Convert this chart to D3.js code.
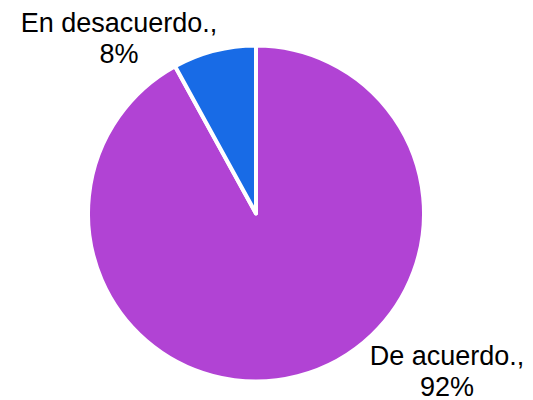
<!DOCTYPE html>
<html>
<head>
<meta charset="utf-8">
<script src="https://cdn.jsdelivr.net/npm/d3@7"></script>
<style>
  body { margin: 0; background: #fff; }
  text { font-family: "Liberation Sans", Arial, Helvetica, sans-serif; }
</style>
</head>
<body>
<svg id="chart" width="533" height="400"></svg>
<script>
// data
var categories = ["De acuerdo.", "En desacuerdo."];
var values = [92, 8];
var colors = ["#b143d4", "#186be6"];

var width = 533, height = 400;
var cx = 256, cy = 213.5, radius = 168;

var svg = d3.select("#chart");

var pie = d3.pie()
    .sort(null)
    .value(function (d) { return d.value; });

var arc = d3.arc()
    .innerRadius(0)
    .outerRadius(radius);

var data = categories.map(function (c, i) {
    return { name: c, value: values[i], color: colors[i] };
});

var g = svg.append("g")
    .attr("transform", "translate(" + cx + "," + cy + ")");

g.selectAll("path.slice")
    .data(pie(data))
    .enter()
    .append("path")
    .attr("class", "slice")
    .attr("d", arc)
    .attr("fill", function (d) { return d.data.color; })
    .attr("stroke", "#fff")
    .attr("stroke-width", 4)
    .attr("stroke-linejoin", "round");

// labels, two lines each, centered
var labelPos = [
    { x: 447, y: 365 },   // De acuerdo.
    { x: 119, y: 32 }     // En desacuerdo.
];

var labels = svg.selectAll("text.lbl")
    .data(data)
    .enter()
    .append("text")
    .attr("class", "lbl")
    .attr("text-anchor", "middle")
    .attr("font-size", 27)
    .attr("fill", "#000");

labels.append("tspan")
    .attr("x", function (d, i) { return labelPos[i].x; })
    .attr("y", function (d, i) { return labelPos[i].y; })
    .text(function (d) { return d.name + ","; });

labels.append("tspan")
    .attr("x", function (d, i) { return labelPos[i].x; })
    .attr("dy", 30.5)
    .text(function (d) { return d.value + "%"; });
</script>
</body>
</html>
